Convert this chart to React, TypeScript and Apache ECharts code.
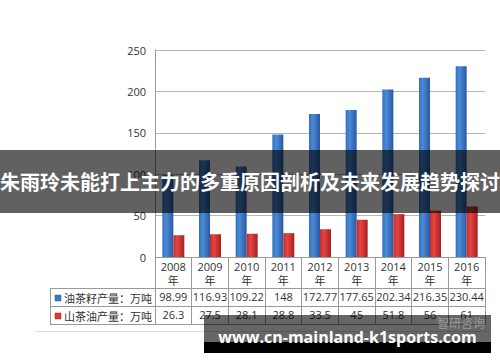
import React, { useEffect, useRef } from "react";
import * as echarts from "echarts";

const years = ["2008", "2009", "2010", "2011", "2012", "2013", "2014", "2015", "2016"];
const yearLabels = years.map((y) => y + "\n年");
const seedOutput = [98.99, 116.93, 109.22, 148, 172.77, 177.65, 202.34, 216.35, 230.44];
const oilOutput = [26.3, 27.5, 28.1, 28.8, 33.5, 45, 51.8, 56, 61];
const seriesNames = ["油茶籽产量：万吨", "山茶油产量：万吨"];
const yMin = 0;
const yMax = 250;
const yInterval = 50;
const titleText = "朱雨玲未能打上主力的多重原因剖析及未来发展趋势探讨";
const watermarkText = "www.cn-mainland-k1sports.com";
const sourceText = "智研咨询";

const seedLabels = seedOutput.map((v) => String(v));
const oilLabels = oilOutput.map((v) => String(v));

const blueGrad = () =>
  new echarts.graphic.LinearGradient(0, 0, 1, 0, [
    { offset: 0, color: "#3370c0" },
    { offset: 0.35, color: "#4b8ad6" },
    { offset: 1, color: "#2859a3" },
  ]);
const redGrad = () =>
  new echarts.graphic.LinearGradient(0, 0, 1, 0, [
    { offset: 0, color: "#c42c2a" },
    { offset: 0.35, color: "#e24642" },
    { offset: 1, color: "#a81e1e" },
  ]);

export default function App() {
  const ref = useRef<HTMLDivElement>(null);
  useEffect(() => {
    document.body.style.margin = "0";
    const chart = echarts.init(ref.current!, null, { renderer: "svg" });
    const lineColor = "#9a9a9a";
    const font = "'Open Sans', 'Noto Sans CJK SC', sans-serif";
    const tableLeft = 50;
    const tableRight = 485;
    chart.setOption({
      animation: false,
      backgroundColor: "#fff",
      textStyle: { fontFamily: font },
      grid: { left: 155, right: 15, top: 50, bottom: 105, containLabel: false },
      xAxis: [
        {
          type: "category",
          data: yearLabels,
          position: "bottom",
          boundaryGap: true,
          axisLine: { show: true, lineStyle: { color: lineColor } },
          axisTick: { show: true, length: 68, lineStyle: { color: lineColor } },
          axisLabel: { interval: 0, fontSize: 11, color: "#333", lineHeight: 14, margin: 2, fontFamily: font },
        },
        {
          type: "category",
          data: seedLabels,
          position: "bottom",
          offset: 34,
          axisLine: { show: false },
          axisTick: { show: false },
          axisLabel: { interval: 0, fontSize: 11, color: "#333", margin: 0, fontFamily: font },
        },
        {
          type: "category",
          data: oilLabels,
          position: "bottom",
          offset: 52,
          axisLine: { show: false },
          axisTick: { show: false },
          axisLabel: { interval: 0, fontSize: 11, color: "#333", margin: 0, fontFamily: font },
        },
      ],
      yAxis: {
        type: "value",
        min: yMin,
        max: yMax,
        interval: yInterval,
        axisLine: { show: true, lineStyle: { color: lineColor } },
        axisTick: { show: false },
        splitLine: { lineStyle: { color: "#b5b5b5" } },
        axisLabel: { fontSize: 11, color: "#333", margin: 9, fontFamily: font },
      },
      series: [
        {
          name: seriesNames[0],
          type: "bar",
          xAxisIndex: 0,
          data: seedOutput,
          barWidth: 11,
          barGap: "0%",
          itemStyle: { color: blueGrad() },
        },
        {
          name: seriesNames[1],
          type: "bar",
          xAxisIndex: 0,
          data: oilOutput,
          barWidth: 11,
          barGap: "0%",
          itemStyle: { color: redGrad() },
        },
      ],
      graphic: [
        { type: "line", shape: { x1: tableLeft, y1: 288.5, x2: tableRight, y2: 288.5 }, style: { stroke: lineColor, lineWidth: 1 }, z: 10 },
        { type: "line", shape: { x1: tableLeft, y1: 306.5, x2: tableRight, y2: 306.5 }, style: { stroke: lineColor, lineWidth: 1 }, z: 10 },
        { type: "line", shape: { x1: tableLeft, y1: 324.5, x2: tableRight, y2: 324.5 }, style: { stroke: lineColor, lineWidth: 1 }, z: 10 },
        { type: "line", shape: { x1: tableLeft + 0.5, y1: 288.5, x2: tableLeft + 0.5, y2: 324.5 }, style: { stroke: lineColor, lineWidth: 1 }, z: 10 },
        { type: "line", shape: { x1: 35, y1: 331.5, x2: 490, y2: 331.5 }, style: { stroke: "#dddddd", lineWidth: 1 }, z: 10 },
        { type: "rect", shape: { x: 55, y: 295, width: 6, height: 6 }, style: { fill: "#3a78c8", stroke: "#2a5ca6", lineWidth: 0.5 }, z: 10 },
        { type: "rect", shape: { x: 55, y: 313, width: 6, height: 6 }, style: { fill: "#d83a36", stroke: "#a81e1e", lineWidth: 0.5 }, z: 10 },
        { type: "text", x: 64, y: 298, style: { text: seriesNames[0], fontSize: 11, fill: "#333", fontFamily: "'Noto Sans CJK SC', sans-serif", verticalAlign: "middle" }, z: 10 },
        { type: "text", x: 64, y: 316, style: { text: seriesNames[1], fontSize: 11, fill: "#333", fontFamily: "'Noto Sans CJK SC', sans-serif", verticalAlign: "middle" }, z: 10 },
        { type: "rect", shape: { x: 0, y: 150, width: 500, height: 63 }, style: { fill: "rgba(0,0,0,0.62)" }, z: 100 },
        { type: "text", x: 250, y: 181.5, style: { text: titleText, fontSize: 20, fontWeight: "bold", fill: "#fff", fontFamily: "'Noto Sans CJK SC', sans-serif", align: "center", verticalAlign: "middle" }, z: 101 },
        { type: "rect", shape: { x: 204, y: 315, width: 287, height: 27 }, style: { fill: "rgba(0,0,0,0.6)" }, z: 100 },
        { type: "rect", shape: { x: 204, y: 342, width: 287, height: 11 }, style: { fill: "#000" }, z: 100 },
        { type: "text", x: 461, y: 322, style: { text: sourceText, fontSize: 12, fill: "#9a9a9a", fontFamily: "'Noto Sans CJK SC', sans-serif", align: "center", verticalAlign: "middle" }, z: 101 },
        { type: "text", x: 347.5, y: 336.5, style: { text: watermarkText, fontSize: 16, fontWeight: "bold", fill: "#fff", fontFamily: "'Open Sans', sans-serif", align: "center", verticalAlign: "middle" }, z: 102 },
      ],
    });
    return () => chart.dispose();
  }, []);
  return <div ref={ref} style={{ width: 500, height: 362 }} />;
}
